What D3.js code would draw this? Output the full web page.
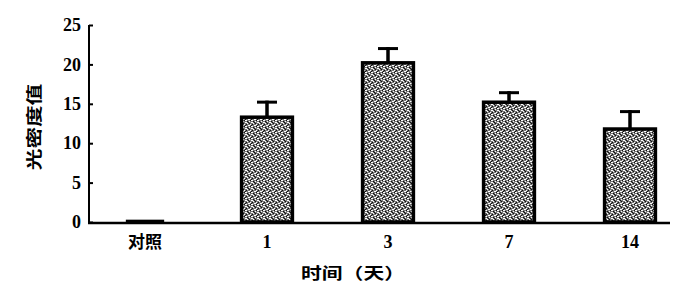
<!DOCTYPE html>
<html><head><meta charset="utf-8">
<script src="https://cdn.jsdelivr.net/npm/d3@7"></script>
<style>body{margin:0;background:#fff}svg{display:block}</style>
</head><body>
<svg id="c" width="685" height="297"></svg>
<script>
const categories = ["对照", "1", "3", "7", "14"];
const values = [0.2, 13.3, 20.2, 15.2, 11.8];
const errors = [0, 2.1, 2.0, 1.4, 2.4];
const yTicks = [0, 5, 10, 15, 20, 25];

const svg = d3.select("#c");
const x = d3.scaleBand().domain(categories).range([85.5, 690.5]).paddingInner(0.58).paddingOuter(0.29);
const y = d3.scaleLinear().domain([0, 25]).range([222, 25]);

const defs = svg.append("defs");
const pat = defs.append("pattern").attr("id","stip").attr("patternUnits","userSpaceOnUse").attr("width",6).attr("height",6);
pat.append("rect").attr("width",6).attr("height",6).attr("fill","#777");
[[0,0],[3,1],[1,3],[4,4],[2,5],[5,2],[0,2],[3,5],[5,0]].forEach(([a,b])=>pat.append("rect").attr("x",a).attr("y",b).attr("width",1).attr("height",1).attr("fill","#fff"));
[[1,1],[4,0],[0,4],[3,3],[5,5],[2,2]].forEach(([a,b])=>pat.append("rect").attr("x",a).attr("y",b).attr("width",1).attr("height",1).attr("fill","#111"));

// y axis
const yAxis = svg.append("g").attr("transform","translate(89,0)")
  .call(d3.axisRight(y).tickValues(yTicks).tickSize(4).tickFormat(d3.format("d")));
yAxis.select(".domain").attr("stroke","#000").attr("stroke-width",2).attr("d",`M0,${y(25)}V${y(0)}`);
yAxis.selectAll(".tick line").attr("stroke","#000").attr("stroke-width",2);
yAxis.selectAll(".tick text").attr("x",-8).attr("text-anchor","end")
  .attr("font-family","'Liberation Serif', 'DejaVu Serif', serif").attr("font-size",18).attr("font-weight","bold").attr("fill","#000");

// baseline
svg.append("line").attr("x1",88).attr("x2",670).attr("y1",y(0)+1).attr("y2",y(0)+1).attr("stroke","#000").attr("stroke-width",2.5);

// bars
const bw = x.bandwidth();
svg.selectAll("rect.bar").data(values).join("rect").attr("class","bar")
  .attr("x",(d,i)=>x(categories[i]) + (d<1?6:0)).attr("width",d=>d<1?bw-14:bw)
  .attr("y",d=>y(d)).attr("height",d=>y(0)-y(d))
  .attr("fill",d=>d<1?"#000":"url(#stip)").attr("stroke","#000").attr("stroke-width",(d)=>d<1?1.5:3.5);

// error bars
const eg = svg.selectAll("g.err").data(values.map((v,i)=>({v,e:errors[i],c:categories[i]})).filter(d=>d.e>0)).join("g").attr("class","err");
eg.append("line").attr("x1",d=>x(d.c)+bw/2).attr("x2",d=>x(d.c)+bw/2)
  .attr("y1",d=>y(d.v)).attr("y2",d=>y(d.v+d.e)).attr("stroke","#000").attr("stroke-width",3.5);
eg.append("line").attr("x1",d=>x(d.c)+bw/2-10).attr("x2",d=>x(d.c)+bw/2+10)
  .attr("y1",d=>y(d.v+d.e)+1.5).attr("y2",d=>y(d.v+d.e)+1.5).attr("stroke","#000").attr("stroke-width",3);

// x labels
svg.selectAll("text.xl").data(categories).join("text").attr("class","xl")
  .attr("x",d=>x(d)+bw/2 + (d==="对照"?-1:0)).attr("y",248).attr("text-anchor","middle")
  .attr("font-family",d=>d==="对照"?"'Noto Sans CJK SC', sans-serif":"'Liberation Serif', serif")
  .attr("font-size",d=>d==="对照"?17:18).attr("font-weight","bold").text(d=>d);

svg.append("text").attr("transform","translate(353,279) scale(1.3,1)").attr("text-anchor","middle")
  .attr("font-family","'Noto Sans CJK SC', sans-serif").attr("font-size",16).attr("font-weight","bold").text("时间（天）");

svg.append("text").attr("transform","translate(40,127) rotate(-90) scale(1.35,1)").attr("text-anchor","middle")
  .attr("font-family","'Noto Sans CJK SC', sans-serif").attr("font-size",16).attr("font-weight","bold").text("光密度值");
</script>
</body></html>
